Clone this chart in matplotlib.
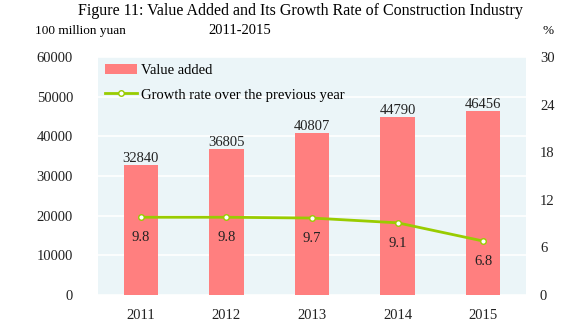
import matplotlib.pyplot as plt
from matplotlib.lines import Line2D
from matplotlib.patches import Patch

years = ["2011", "2012", "2013", "2014", "2015"]
value_added = [32840, 36805, 40807, 44790, 46456]
growth_rate = [9.8, 9.8, 9.7, 9.1, 6.8]
left_ticks = [0, 10000, 20000, 30000, 40000, 50000, 60000]
right_ticks = [0, 6, 12, 18, 24, 30]

BAR = "#FF7F7F"
LINE = "#99CC00"
BG = "#EBF5F8"

plt.rcParams["font.family"] = ["Liberation Serif", "DejaVu Serif"]

fig = plt.figure(figsize=(5.68, 3.22), dpi=100, facecolor="white")
ax = fig.add_axes([98 / 568, 1 - 295 / 322, 428 / 568, 238 / 322])
ax.set_facecolor(BG)
x = list(range(len(years)))

ax.bar(x, value_added, width=0.4, color=BAR, zorder=3)
for xi, v in zip(x, value_added):
    ax.annotate(str(v), (xi, v), xytext=(0, 0), textcoords="offset points",
                ha="center", va="bottom", fontsize=10.5, color="#222222")

ax.set_xlim(-0.5, len(years) - 0.5)
ax.set_ylim(0, 60000)
ax.set_yticks(left_ticks)
ax.set_xticks(x)
ax.set_xticklabels(years)
ax.grid(axis="y", color="white", linewidth=1.2, zorder=1)
ax.set_axisbelow(True)
for s in ax.spines.values():
    s.set_visible(False)
ax.tick_params(length=0, labelsize=10.5, labelcolor="#222222")
ax.tick_params(axis="y", pad=18)
ax.tick_params(axis="x", pad=10)

ax2 = ax.twinx()
ax2.plot(x, growth_rate, color=LINE, linewidth=2, marker="o", markersize=4,
         markerfacecolor="white", markeredgecolor=LINE, markeredgewidth=1, zorder=4)
for xi, g in zip(x, growth_rate):
    ax2.annotate(f"{g:.1f}", (xi, g), xytext=(0, -10), textcoords="offset points",
                 ha="center", va="top", fontsize=10.5, color="#222222")
ax2.set_ylim(0, 30)
ax2.set_yticks(right_ticks)
for s in ax2.spines.values():
    s.set_visible(False)
ax2.tick_params(length=0, labelsize=10.5, labelcolor="#222222", pad=10)

handles = [Patch(facecolor=BAR, edgecolor="none"),
           Line2D([], [], color=LINE, linewidth=2, marker="o", markersize=4,
                  markerfacecolor="white", markeredgecolor=LINE)]
ax2.legend(handles, ["Value added", "Growth rate over the previous year"],
           loc="upper left", bbox_to_anchor=(-0.015, 1.025), frameon=False,
           fontsize=10.5, handlelength=2.2, labelspacing=0.75, handletextpad=0.3)

fig.text(300 / 568, 1 - 11 / 322, "Figure 11: Value Added and Its Growth Rate of Construction Industry",
         ha="center", va="center", fontsize=11.5)
fig.text(240 / 568, 1 - 31 / 322, "2011-2015", ha="center", va="center", fontsize=10.5)
fig.text(35 / 568, 1 - 31 / 322, "100 million yuan", ha="left", va="center", fontsize=9.5)
fig.text(548 / 568, 1 - 31 / 322, "%", ha="center", va="center", fontsize=9.5)

fig.savefig("out.png", dpi=100, facecolor="white")
